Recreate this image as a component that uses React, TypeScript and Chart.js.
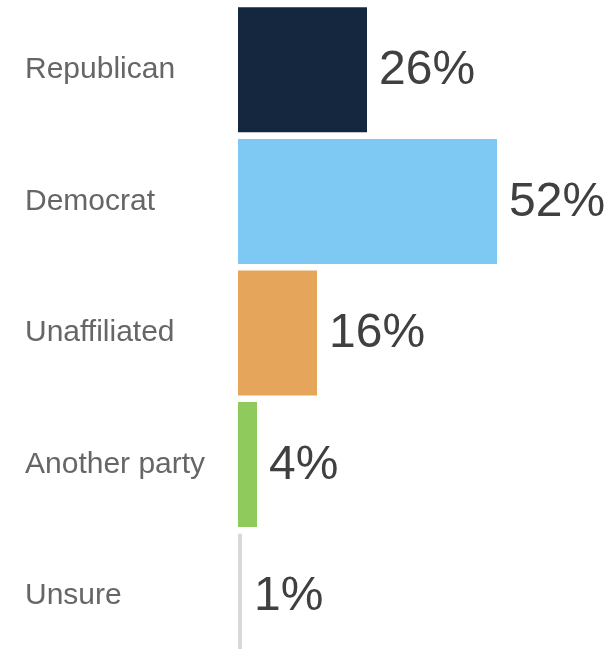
import React, { useEffect, useRef } from "react";
import { Chart, registerables } from "chart.js";

Chart.register(...registerables);

const categories: string[] = ["Republican", "Democrat", "Unaffiliated", "Another party", "Unsure"];
const values: number[] = [26, 52, 16, 4, 1];
const valueLabels: string[] = ["26%", "52%", "16%", "4%", "1%"];
const barColors: string[] = ["#15263f", "#7dc9f3", "#e5a65b", "#8fca5d", "#d9d9d9"];

const FONT = "'Liberation Sans', Arial, Helvetica, sans-serif";

const valueLabelPlugin = {
  id: "valueLabels",
  afterDatasetsDraw(chart: any) {
    const ctx = chart.ctx;
    const meta = chart.getDatasetMeta(0);
    ctx.save();
    ctx.font = `48px ${FONT}`;
    ctx.fillStyle = "#404040";
    ctx.textAlign = "left";
    ctx.textBaseline = "middle";
    meta.data.forEach((bar: any, i: number) => {
      ctx.fillText(valueLabels[i], bar.x + 12, bar.y + 1);
    });
    ctx.restore();
  },
};

export default function App() {
  const ref = useRef<HTMLCanvasElement | null>(null);
  useEffect(() => {
    if (!ref.current) return;
    const chart = new Chart(ref.current, {
      type: "bar",
      data: {
        labels: categories,
        datasets: [
          {
            data: values,
            backgroundColor: barColors,
            borderWidth: 0,
            barPercentage: 0.95,
            categoryPercentage: 1,
          },
        ],
      },
      options: {
        indexAxis: "y",
        responsive: false,
        animation: false,
        layout: { padding: { left: 25, top: 4, right: 4, bottom: 2 } },
        plugins: { legend: { display: false }, tooltip: { enabled: false } },
        scales: {
          x: {
            min: 0,
            max: 75,
            z: 1,
            ticks: { display: false, stepSize: 25 },
            grid: { color: "rgba(255,255,255,0.45)", lineWidth: 2, drawTicks: false },
            border: { display: false },
          },
          y: {
            grid: { display: false },
            border: { display: false },
            ticks: {
              crossAlign: "far",
              autoSkip: false,
              color: "#666666",
              font: { family: FONT, size: 30 },
            },
            afterFit(scale: any) {
              scale.width = 212;
              scale.paddingTop = 0;
              scale.paddingBottom = 0;
            },
          },
        },
      },
      plugins: [valueLabelPlugin],
    } as any);
    return () => chart.destroy();
  }, []);
  return (
    <div style={{ position: "fixed", left: 0, top: 0, width: 616, height: 649, overflow: "hidden", background: "#fff" }}>
      <canvas ref={ref} width={616} height={664} style={{ display: "block" }} />
    </div>
  );
}
